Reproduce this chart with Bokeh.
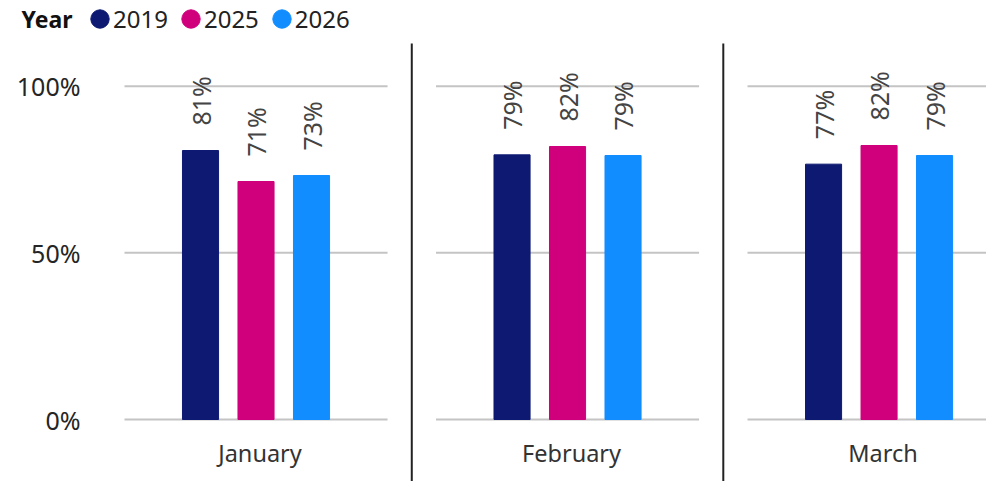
import math
from bokeh.plotting import figure
from bokeh.models import ColumnDataSource, Range1d, Legend, LegendItem, Label
from bokeh.core.properties import value
from bokeh.embed import file_html
from bokeh.resources import INLINE

# ---- data ----
months = ["January", "February", "March"]
years = ["2019", "2025", "2026"]
colors = ["#0E1A72", "#D0007D", "#118DFF"]
v2019 = [0.807, 0.794, 0.766]
v2025 = [0.714, 0.819, 0.822]
v2026 = [0.732, 0.792, 0.792]
y_ticks = [0.0, 0.5, 1.0]
y_tick_labels = ["0%", "50%", "100%"]

FONT = "Noto Sans"
STEP = 5.613      # distance between month groups, in bar slots
HALF = 2.37       # half width of each panel's gridlines, in bar slots
Y_BOTTOM = -0.186
Y_TOP = 1.257
SEP_TOP = 1.128

series = [v2019, v2025, v2026]

xs, ys, cols, labels = [], [], [], []
for g, m in enumerate(months):
    for k, yr in enumerate(years):
        xs.append(g * STEP + k)
        ys.append(series[k][g])
        cols.append(colors[k])
        labels.append(f"{round(series[k][g] * 100)}%")
src = ColumnDataSource(dict(x=xs, top=ys, color=cols, label=labels))

p = figure(width=986, height=481, output_backend="svg", toolbar_location=None,
           x_range=Range1d(-3.604, 14.162), y_range=Range1d(Y_BOTTOM, Y_TOP),
           min_border=0)
p.outline_line_color = None
p.grid.visible = False
p.axis.visible = False

# panel gridlines
gx0, gx1, gy = [], [], []
for g in range(len(months)):
    c = g * STEP + 1
    for t in y_ticks:
        gx0.append(c - HALF)
        gx1.append(c + HALF)
        gy.append(t)
p.segment(x0=gx0, x1=gx1, y0=gy, y1=gy, line_color="#C4C4C4", line_width=2)

# y tick labels (left of first panel)
p.text(x=[1 - HALF] * len(y_ticks), y=y_ticks, text=y_tick_labels, x_offset=-44,
       text_align="right", text_baseline="middle",
       text_font=value(FONT), text_font_size="25px", text_color="#252525")

# separators between panels
sep_x = [g * STEP + 1 + STEP / 2 for g in range(len(months) - 1)]
p.segment(x0=sep_x, x1=sep_x, y0=[Y_BOTTOM] * len(sep_x), y1=[SEP_TOP] * len(sep_x),
          line_color="#222222", line_width=2)

p.vbar(x="x", top="top", bottom=0, width=0.65, color="color", source=src)

p.text(x="x", y="top", text="label", source=src, angle=math.pi / 2,
       text_align="left", text_baseline="middle", y_offset=-25,
       text_font=value(FONT), text_font_size="25px", text_color="#444444")

# month labels
p.text(x=[g * STEP + 1 for g in range(len(months))], y=[-0.099] * len(months), text=months,
       x_offset=4, text_align="center", text_baseline="middle",
       text_font=value(FONT), text_font_size="23.5px", text_color="#333333")

# legend (dummy circle renderers placed outside the visible range)
rs = [p.ellipse(x=[-100], y=[-100], width=18, height=18, width_units="screen",
                height_units="screen", color=c) for c in colors]
legend = Legend(items=[LegendItem(label=yr, renderers=[r], index=0) for yr, r in zip(years, rs)],
                orientation="horizontal", location=(88, 440), padding=0, margin=0,
                spacing=11, label_standoff=2, glyph_width=23, glyph_height=45,
                border_line_color=None, background_fill_alpha=0,
                label_text_font=FONT, label_text_font_size="24px",
                label_text_color="#222222", label_text_baseline="middle")
p.add_layout(legend)

p.add_layout(Label(x=21, y=463, x_units="screen", y_units="screen", text="Year",
                   text_font=FONT, text_font_size="23px", text_font_style="bold",
                   text_color="#111111", text_baseline="middle"))

open("out.html", "w").write(file_html(p, INLINE))
